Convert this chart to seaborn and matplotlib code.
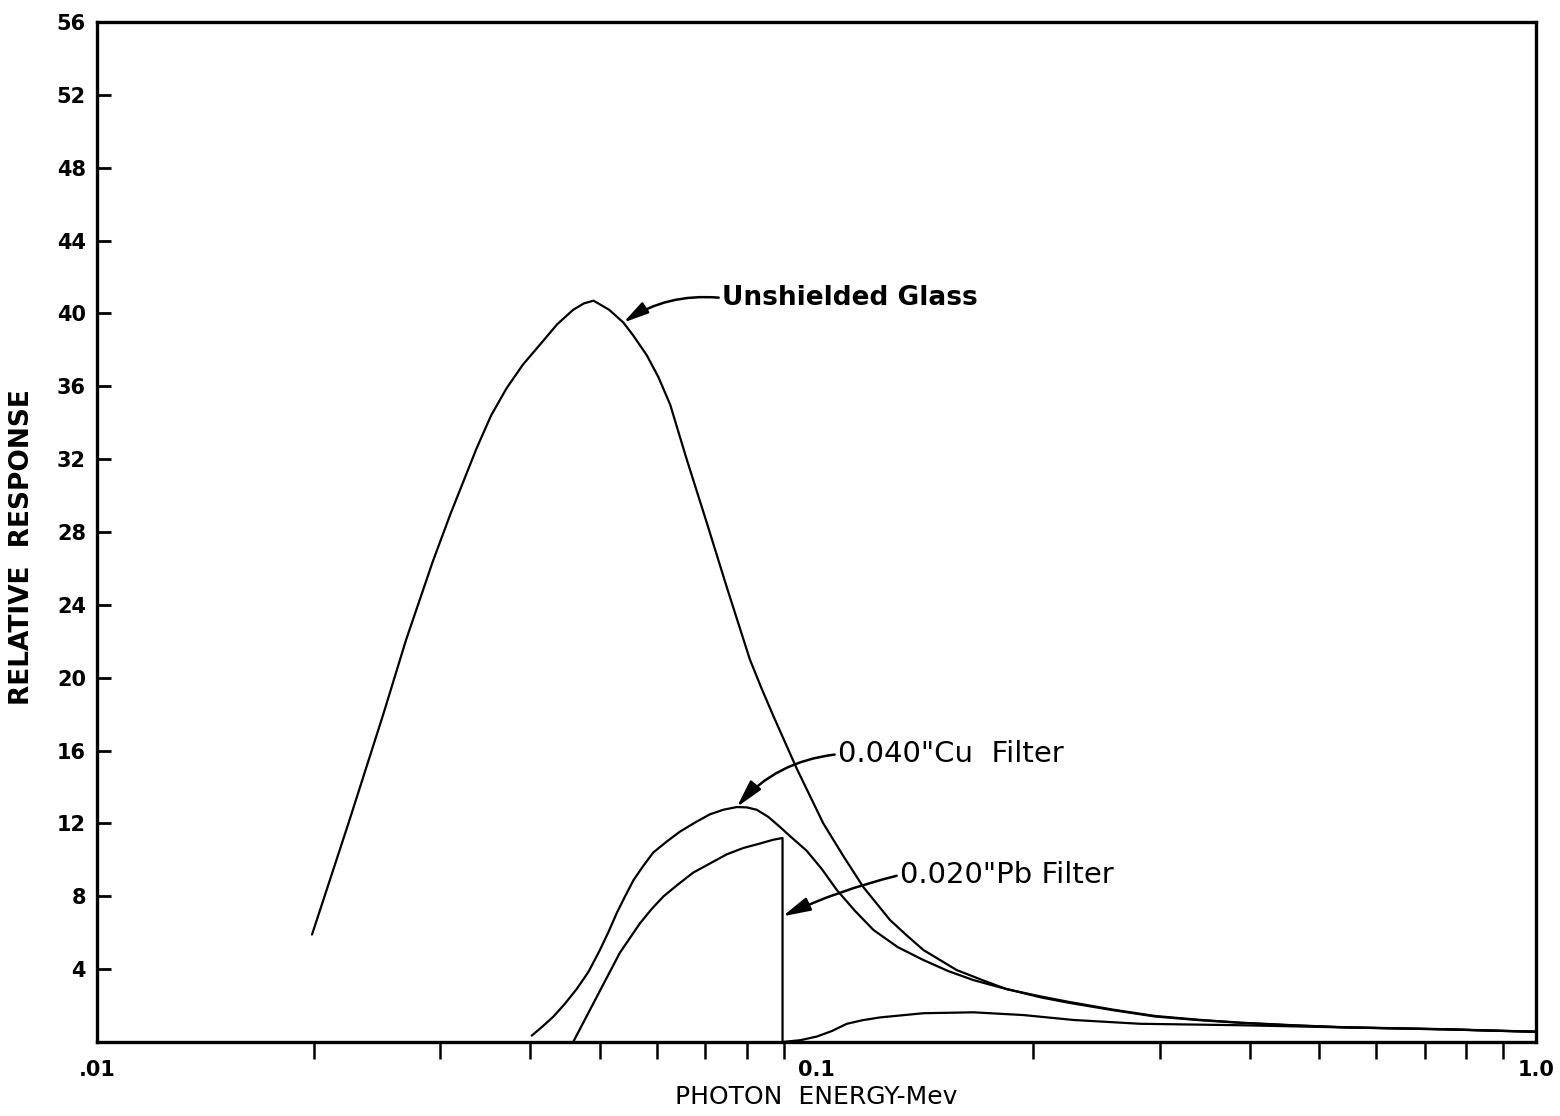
import matplotlib
matplotlib.use("Agg")
import matplotlib.pyplot as plt
import pandas as pd
import seaborn as sns
from matplotlib.ticker import FixedLocator, LogLocator, NullFormatter

# Relative response of glass dosimeters vs photon energy (MeV)
unshielded_energy = [0.0199, 0.0224, 0.0250, 0.0269, 0.0293, 0.0310, 0.0337, 0.0353,
                     0.0371, 0.0391, 0.0413, 0.0436, 0.0459, 0.0475, 0.0490, 0.0515,
                     0.0539, 0.0556, 0.0581, 0.0603, 0.0626, 0.0660, 0.0704, 0.0750,
                     0.0808, 0.0839, 0.0871, 0.0939, 0.1022, 0.1090, 0.1162, 0.1265,
                     0.1335, 0.1408, 0.1566, 0.1700, 0.1838, 0.2050, 0.2244, 0.2580,
                     0.2954, 0.3400, 0.389, 0.460, 0.543, 0.650, 0.755, 0.870, 1.0]
unshielded_resp = [5.9, 12.1, 18.0, 22.1, 26.4, 29.0, 32.6, 34.4,
                   35.9, 37.2, 38.3, 39.4, 40.2, 40.55, 40.7, 40.2,
                   39.5, 38.8, 37.7, 36.5, 35.0, 32.0, 28.5, 25.0,
                   21.0, 19.4, 17.9, 15.0, 12.0, 10.2, 8.5, 6.7,
                   5.85, 5.05, 3.95, 3.4, 2.9, 2.5, 2.2, 1.78,
                   1.43, 1.22, 1.06, 0.92, 0.81, 0.75, 0.70, 0.63, 0.57]

cu_energy = [0.0402, 0.0416, 0.0431, 0.0447, 0.0464, 0.0482, 0.0500, 0.0514,
             0.0528, 0.0542, 0.0557, 0.0574, 0.0593, 0.0619, 0.0646, 0.0678,
             0.0711, 0.0742, 0.0775, 0.0800, 0.0826, 0.0857, 0.0890, 0.0919,
             0.0969, 0.1017, 0.1067, 0.1131, 0.1200, 0.1298, 0.1408, 0.1523,
             0.1652, 0.1799, 0.2050, 0.2244, 0.2580, 0.2954, 0.3400, 0.389,
             0.460, 0.543, 0.650, 0.755, 0.870, 1.0]
cu_resp = [0.35, 0.85, 1.4, 2.1, 2.9, 3.85, 5.05, 6.05,
           7.1, 8.0, 8.9, 9.65, 10.4, 11.0, 11.55, 12.05,
           12.5, 12.75, 12.9, 12.88, 12.75, 12.36, 11.8, 11.3,
           10.5, 9.5, 8.35, 7.2, 6.15, 5.2, 4.5, 3.9,
           3.4, 3.0, 2.45, 2.15, 1.75, 1.4, 1.2, 1.05,
           0.91, 0.8, 0.74, 0.69, 0.62, 0.56]

pb_energy = [0.0459, 0.0479, 0.0506, 0.0533, 0.0568, 0.0590, 0.0613, 0.0642,
             0.0674, 0.0711, 0.0750, 0.0791, 0.0835, 0.0870, 0.0897, 0.0897,
             0.0950, 0.1001, 0.1050, 0.1102, 0.1160, 0.1226, 0.1408, 0.1652,
             0.1938, 0.2275, 0.2817, 0.389, 0.543, 0.755, 1.0]
pb_resp = [0.0, 1.4, 3.2, 4.9, 6.5, 7.3, 8.0, 8.65,
           9.3, 9.8, 10.3, 10.65, 10.9, 11.1, 11.2, 0.0,
           0.1, 0.3, 0.6, 1.0, 1.2, 1.35, 1.58, 1.63,
           1.48, 1.21, 1.0, 0.92, 0.8, 0.69, 0.56]

series_names = ["Unshielded Glass", "0.040\"Cu  Filter", "0.020\"Pb Filter"]

x_major_ticks = [0.01, 0.1, 1.0]
x_major_labels = [".01", "0.1", "1.0"]
y_ticks = list(range(4, 57, 4))

sns.set_theme(style="ticks")
plt.rcParams["font.family"] = ["DejaVu Sans"]

frames = [
    pd.DataFrame({"energy": e, "response": r, "series": n})
    for n, e, r in zip(series_names,
                       [unshielded_energy, cu_energy, pb_energy],
                       [unshielded_resp, cu_resp, pb_resp])
]
df = pd.concat(frames, ignore_index=True)

fig = plt.figure(figsize=(15.6, 11.16), dpi=100)
ax = fig.add_axes([97 / 1560, 74 / 1116, 1439 / 1560, 1020 / 1116])

sns.lineplot(data=df, x="energy", y="response", hue="series",
             palette={n: "black" for n in series_names},
             estimator=None, sort=False, linewidth=1.6, legend=False, ax=ax)

ax.set_xscale("log")
ax.set_xlim(0.01, 1.0)
ax.set_ylim(0, 56)

ax.xaxis.set_major_locator(FixedLocator(x_major_ticks))
ax.set_xticklabels(x_major_labels)
ax.xaxis.set_minor_locator(LogLocator(base=10, subs=range(2, 10)))
ax.xaxis.set_minor_formatter(NullFormatter())
ax.set_yticks(y_ticks)

ax.tick_params(axis="x", which="major", length=0, pad=13, labelsize=15, colors="black")
ax.tick_params(axis="x", which="minor", direction="out", length=12, width=1.8, color="black")
ax.tick_params(axis="y", which="major", direction="in", length=10, width=2,
               pad=8, labelsize=15, colors="black", left=True)
for lab in ax.get_xticklabels() + ax.get_yticklabels():
    lab.set_fontweight("bold")

for side in ["left", "right", "top", "bottom"]:
    ax.spines[side].set_visible(True)
    ax.spines[side].set_color("black")
    ax.spines[side].set_linewidth(2.4)

ax.set_xlabel("PHOTON  ENERGY-Mev", fontsize=18, color="black")
ax.set_ylabel("RELATIVE  RESPONSE", fontsize=19, fontweight="bold", color="black")
ax.xaxis.set_label_coords(0.5, -0.042)
ax.yaxis.set_label_coords(-0.043, 0.485)

arrow = dict(arrowstyle="-|>,head_length=0.8,head_width=0.2", color="black",
             lw=1.8, shrinkA=0, shrinkB=0, relpos=(0, 0.5))

ax.annotate(series_names[0], xy=(unshielded_energy[16], unshielded_resp[16]),
            xytext=(0.0739, 40.85), ha="left", va="center", fontsize=19,
            fontweight="bold", color="black",
            arrowprops=dict(arrow, connectionstyle="arc3,rad=0.18"))
ax.annotate(series_names[1], xy=(cu_energy[18], cu_resp[18]),
            xytext=(0.1071, 15.8), ha="left", va="center", fontsize=21,
            color="black",
            arrowprops=dict(arrow, connectionstyle="arc3,rad=0.2"))
ax.annotate(series_names[2], xy=(pb_energy[14], 6.9),
            xytext=(0.1306, 9.17), ha="left", va="center", fontsize=21,
            color="black",
            arrowprops=dict(arrow, connectionstyle="arc3,rad=0.05"))

fig.savefig("out.png", dpi=100, facecolor="white")
